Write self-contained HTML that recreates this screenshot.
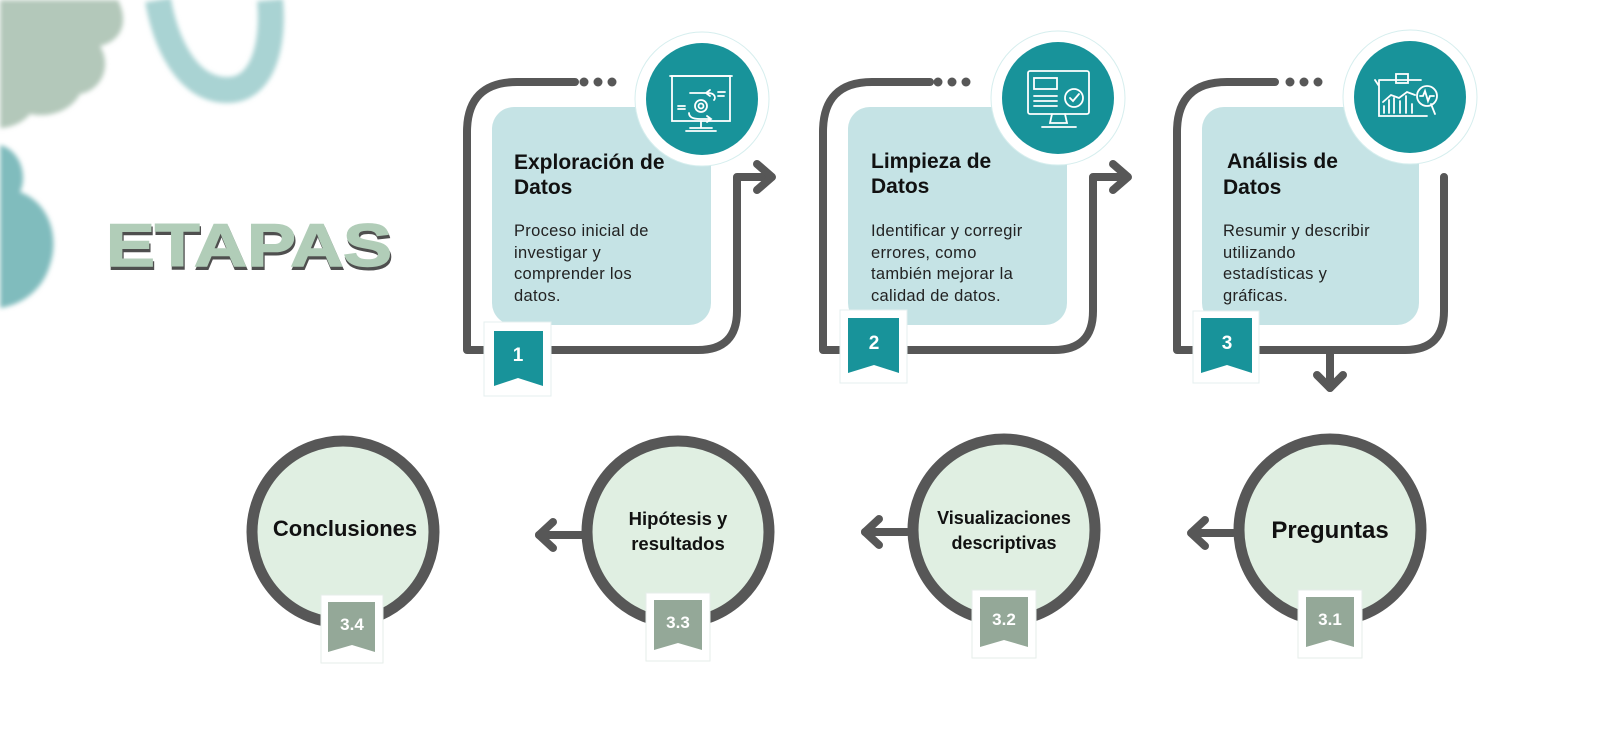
<!DOCTYPE html>
<html><head><meta charset="utf-8"><style>
html,body{margin:0;padding:0;background:#fff;}
svg{display:block;}
.t{font-family:"Liberation Sans",sans-serif;font-weight:bold;fill:#111;}
.b{font-family:"Liberation Sans",sans-serif;fill:#222;font-size:16.5px;letter-spacing:0.3px;}
</style></head><body>
<svg width="1600" height="750" viewBox="0 0 1600 750" xmlns="http://www.w3.org/2000/svg">
<defs>
<filter id="bl" x="-20%" y="-20%" width="140%" height="140%"><feGaussianBlur stdDeviation="2.5"/></filter>
</defs>
<!-- decorations -->
<g filter="url(#bl)">
<path d="M0 0 H118 C128 20 124 40 100 46 C112 66 102 90 80 94 C70 112 48 118 30 114 C22 124 8 128 0 128 Z" fill="#b3c8ba"/>
<path d="M158 0 C165 40 185 88 225 90 C265 92 274 40 270 0" fill="none" stroke="#a9d3d3" stroke-width="26"/>
<path d="M0 145 C20 150 28 175 20 192 C48 202 60 235 50 265 C42 292 20 305 0 308 Z" fill="#80bcbd"/>
</g>
<!-- ETAPAS -->
<text x="107" y="269" textLength="286" lengthAdjust="spacingAndGlyphs" font-family="Liberation Sans,sans-serif" font-weight="900" font-size="60" fill="#4f4f4f" stroke="#4f4f4f" stroke-width="2">ETAPAS</text>
<text x="106" y="266" textLength="286" lengthAdjust="spacingAndGlyphs" font-family="Liberation Sans,sans-serif" font-weight="900" font-size="60" fill="#b1cdb8" stroke="#b1cdb8" stroke-width="1.5">ETAPAS</text>

<g fill="none" stroke="#575757" stroke-width="8" stroke-linecap="round" stroke-linejoin="round">
<path d="M575 82 H517 Q467 82 467 132 V350 H698 Q737 350 737 311 V177 H770"/>
<path d="M757 164 L772 177 L757 190"/>
<path d="M930 82 H872 Q823 82 823 132 V350 H1054 Q1093 350 1093 311 V177 H1126"/>
<path d="M1113 164 L1128 177 L1113 190"/>
<path d="M1275 82 H1227 Q1177 82 1177 132 V350 H1405 Q1444 350 1444 311 V177"/>
<path d="M1330 350 V388"/>
<path d="M1317 375 L1330 388 L1343 375"/>
<path d="M1233 533 H1192"/><path d="M1205 520 L1191 533 L1205 546"/>
<path d="M907 532 H865"/><path d="M879 519 L865 532 L879 545"/>
<path d="M583 535 H539"/><path d="M553 522 L539 535 L553 548"/>
</g>
<g fill="#575757">
<circle cx="584" cy="82" r="4.5"/><circle cx="598" cy="82" r="4.5"/><circle cx="612" cy="82" r="4.5"/>
<circle cx="938" cy="82" r="4.5"/><circle cx="952" cy="82" r="4.5"/><circle cx="966" cy="82" r="4.5"/>
<circle cx="1290" cy="82" r="4.5"/><circle cx="1304" cy="82" r="4.5"/><circle cx="1318" cy="82" r="4.5"/>
</g>

<rect x="492" y="107" width="219" height="218" rx="22" fill="#c5e3e5"/>
<rect x="848" y="107" width="219" height="218" rx="22" fill="#c5e3e5"/>
<rect x="1202" y="107" width="217" height="218" rx="22" fill="#c5e3e5"/>

<g>
<circle cx="702" cy="99" r="67" fill="#fff" stroke="#d6eeee" stroke-width="1"/>
<circle cx="702" cy="99" r="56" fill="#18939a"/>
<circle cx="1058" cy="98" r="67" fill="#fff" stroke="#d6eeee" stroke-width="1"/>
<circle cx="1058" cy="98" r="56" fill="#18939a"/>
<circle cx="1410" cy="97" r="67" fill="#fff" stroke="#d6eeee" stroke-width="1"/>
<circle cx="1410" cy="97" r="56" fill="#18939a"/>
</g>
<g fill="none" stroke="#fff" stroke-width="1.8" stroke-linecap="round">
<rect x="672" y="76" width="58" height="45"/><line x1="670" y1="76" x2="732" y2="76"/>
<path d="M701 121 V128 M686 131 H716 M690 128 H712"/>
<circle cx="701" cy="106" r="6"/><circle cx="701" cy="106" r="2.5"/>
<path d="M690 93 H708 C715 93 716 98 714 100 M710 90 L706 93 L710 96"/>
<path d="M689 113 C689 118 695 119 700 119 H711 M707 116 L711 119 L707 122"/>
<path d="M678 106 H685 M678 109 H685 M718 92 H725 M718 96 H724"/>
<rect x="1028" y="71" width="61" height="43" rx="2"/>
<rect x="1034" y="78" width="23" height="11"/>
<path d="M1034 96 H1057 M1034 101 H1057 M1034 106 H1057"/>
<circle cx="1074" cy="98" r="9"/><path d="M1070 98 L1073 101 L1079 94"/>
<path d="M1052 114 L1050 123 H1067 L1065 114 M1042 127 H1076"/>
<g transform="translate(7,0)">
<path d="M1372 80 H1414 M1372 80 V116 H1420 M1368 80 L1372 86"/>
<rect x="1389" y="74" width="12" height="9"/>
<path d="M1377 113 V106 M1382 113 V100 M1387 113 V98 M1393 113 V101 M1399 113 V96 M1405 113 V104"/>
<path d="M1376 102 L1384 95 L1392 98 L1400 92 L1408 95"/>
<circle cx="1420" cy="96" r="10"/><path d="M1424 104 L1428 114"/>
<path d="M1413 96 H1416 L1418 91 L1421 101 L1423 96 H1427"/>
</g>
</g>

<g>
<rect x="484" y="322" width="67" height="74" fill="#fff" stroke="#e4efef"/>
<path d="M494 331 H543 V386 L518 378 L494 386 Z" fill="#18939a"/>
<rect x="840" y="310" width="67" height="73" fill="#fff" stroke="#e4efef"/>
<path d="M848 318 H899 V373 L874 365 L848 373 Z" fill="#18939a"/>
<rect x="1193" y="311" width="66" height="72" fill="#fff" stroke="#e4efef"/>
<path d="M1201 318 H1252 V373 L1227 365 L1201 373 Z" fill="#18939a"/>
</g>
<g class="t" font-size="19" text-anchor="middle">
<text x="518" y="361" style="fill:#fff">1</text>
<text x="874" y="349" style="fill:#fff">2</text>
<text x="1227" y="349" style="fill:#fff">3</text>
</g>

<text class="t" font-size="21"><tspan x="514" y="169">Exploración de</tspan><tspan x="514" y="194">Datos</tspan></text>
<text class="b"><tspan x="514" y="236">Proceso inicial de</tspan><tspan x="514" y="258">investigar y</tspan><tspan x="514" y="279">comprender los</tspan><tspan x="514" y="301">datos.</tspan></text>
<text class="t" font-size="21"><tspan x="871" y="168">Limpieza de</tspan><tspan x="871" y="193">Datos</tspan></text>
<text class="b"><tspan x="871" y="236">Identificar y corregir</tspan><tspan x="871" y="258">errores, como</tspan><tspan x="871" y="279">también mejorar la</tspan><tspan x="871" y="301">calidad de datos.</tspan></text>
<text class="t" font-size="21"><tspan x="1227" y="168">Análisis de</tspan><tspan x="1223" y="194">Datos</tspan></text>
<text class="b"><tspan x="1223" y="236">Resumir y describir</tspan><tspan x="1223" y="258">utilizando</tspan><tspan x="1223" y="279">estadísticas y</tspan><tspan x="1223" y="301">gráficas.</tspan></text>

<g fill="#e0efe2" stroke="#575757" stroke-width="11">
<circle cx="1330" cy="530" r="91"/>
<circle cx="1004" cy="530" r="91"/>
<circle cx="678" cy="532" r="91"/>
<circle cx="343" cy="532" r="91"/>
</g>
<text class="t" font-size="24" x="1330" y="538" text-anchor="middle">Preguntas</text>
<text class="t" font-size="18" text-anchor="middle"><tspan x="1004" y="524">Visualizaciones</tspan><tspan x="1004" y="549">descriptivas</tspan></text>
<text class="t" font-size="18.5" text-anchor="middle"><tspan x="678" y="525">Hipótesis y</tspan><tspan x="678" y="550">resultados</tspan></text>
<text class="t" font-size="22" x="345" y="536" text-anchor="middle">Conclusiones</text>

<g>
<rect x="1298" y="590" width="64" height="68" fill="#fff" stroke="#e6eeea"/>
<path d="M1306 597 H1354 V647 L1330 640 L1306 647 Z" fill="#94a898"/>
<rect x="972" y="590" width="64" height="68" fill="#fff" stroke="#e6eeea"/>
<path d="M980 597 H1028 V647 L1004 640 L980 647 Z" fill="#94a898"/>
<rect x="646" y="593" width="64" height="68" fill="#fff" stroke="#e6eeea"/>
<path d="M654 600 H702 V650 L678 643 L654 650 Z" fill="#94a898"/>
<rect x="321" y="595" width="62" height="68" fill="#fff" stroke="#e6eeea"/>
<path d="M328 602 H375 V652 L352 645 L328 652 Z" fill="#94a898"/>
</g>
<g font-family="Liberation Sans,sans-serif" font-weight="bold" font-size="17" fill="#fff" text-anchor="middle">
<text x="1330" y="625">3.1</text>
<text x="1004" y="625">3.2</text>
<text x="678" y="628">3.3</text>
<text x="352" y="630">3.4</text>
</g>
</svg>
</body></html>
